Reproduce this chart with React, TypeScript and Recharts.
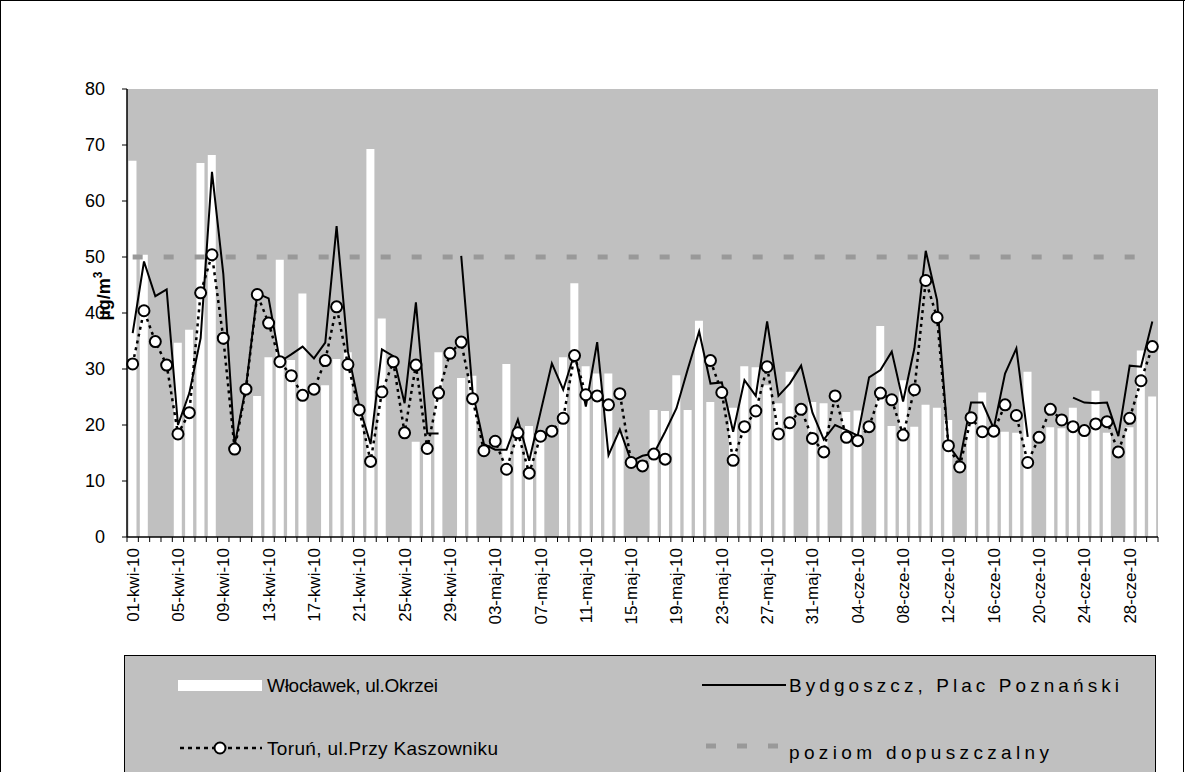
import React from 'react';
import { ComposedChart, Bar, Line, XAxis, YAxis, CartesianGrid } from 'recharts';

const dates = [
  '01-kwi-10','02-kwi-10','03-kwi-10','04-kwi-10','05-kwi-10','06-kwi-10','07-kwi-10','08-kwi-10','09-kwi-10','10-kwi-10',
  '11-kwi-10','12-kwi-10','13-kwi-10','14-kwi-10','15-kwi-10','16-kwi-10','17-kwi-10','18-kwi-10','19-kwi-10','20-kwi-10',
  '21-kwi-10','22-kwi-10','23-kwi-10','24-kwi-10','25-kwi-10','26-kwi-10','27-kwi-10','28-kwi-10','29-kwi-10','30-kwi-10',
  '01-maj-10','02-maj-10','03-maj-10','04-maj-10','05-maj-10','06-maj-10','07-maj-10','08-maj-10','09-maj-10','10-maj-10',
  '11-maj-10','12-maj-10','13-maj-10','14-maj-10','15-maj-10','16-maj-10','17-maj-10','18-maj-10','19-maj-10','20-maj-10',
  '21-maj-10','22-maj-10','23-maj-10','24-maj-10','25-maj-10','26-maj-10','27-maj-10','28-maj-10','29-maj-10','30-maj-10',
  '31-maj-10','01-cze-10','02-cze-10','03-cze-10','04-cze-10','05-cze-10','06-cze-10','07-cze-10','08-cze-10','09-cze-10',
  '10-cze-10','11-cze-10','12-cze-10','13-cze-10','14-cze-10','15-cze-10','16-cze-10','17-cze-10','18-cze-10','19-cze-10',
  '20-cze-10','21-cze-10','22-cze-10','23-cze-10','24-cze-10','25-cze-10','26-cze-10','27-cze-10','28-cze-10','29-cze-10',
  '30-cze-10',
];

const tickLabels = [
  '01-kwi-10','05-kwi-10','09-kwi-10','13-kwi-10','17-kwi-10','21-kwi-10','25-kwi-10','29-kwi-10',
  '03-maj-10','07-maj-10','11-maj-10','15-maj-10','19-maj-10','23-maj-10','27-maj-10','31-maj-10',
  '04-cze-10','08-cze-10','12-cze-10','16-cze-10','20-cze-10','24-cze-10','28-cze-10',
];

const yTicks = [0, 10, 20, 30, 40, 50, 60, 70, 80];

// Włocławek, ul.Okrzei (bars)
const wloclawek: (number | null)[] = [
  67.2, 50.4, null, null, 34.7, 37.0, 66.8, 68.2, null, null,
  null, 25.2, 32.1, 49.5, 31.6, 43.5, null, 27.1, 31.8, 33.0,
  22.5, 69.3, 39.0, null, null, 17.0, 16.0, 33.0, null, 28.4,
  28.8, null, null, 30.9, 17.5, 19.8, 17.2, null, 32.1, 45.3,
  30.5, 29.2, 29.2, 18.5, null, null, 22.7, 22.5, 28.9, 22.7,
  38.6, 24.1, null, 23.1, 30.5, 30.3, 27.1, 23.9, 29.5, null,
  24.1, 23.9, null, 22.3, 22.6, null, 37.7, 19.8, 28.0, 19.7,
  23.6, 23.1, 20.9, null, 22.0, 25.8, 18.5, 18.8, 18.6, 29.5,
  null, 19.6, 19.4, 23.1, 18.5, 26.1, 18.6, null, 19.6, 33.3,
  25.1,
];

// Bydgoszcz, Plac Poznański (solid line)
const bydgoszcz: (number | null)[] = [
  36.4, 49.2, 43.0, 44.2, 20.0, 25.7, 35.5, 65.2, 47.0, 16.4,
  26.8, 43.5, 42.6, 31.3, 32.6, 34.0, 31.9, 34.7, 55.5, 33.1,
  23.3, 16.6, 33.5, 32.3, 23.9, 41.9, 18.5, 18.5, null, 50.2,
  26.0, 16.6, 15.6, 15.6, 21.0, 13.6, 22.3, 31.0, 26.3, 32.8,
  23.3, 34.8, 14.6, 19.2, 13.5, 14.5, 14.9, 18.8, 23.0, 30.0,
  36.7, 27.4, 27.6, 18.8, 28.0, 25.2, 38.5, 25.2, 27.4, 30.6,
  22.2, 17.4, 20.0, 19.1, 18.1, 28.5, 29.8, 33.1, 24.2, 33.7,
  51.1, 42.3, 16.4, 13.6, 24.0, 24.0, 19.4, 29.2, 33.7, 17.9,
  null, null, null, 24.9, 24.0, 23.9, 24.0, 18.0, 30.6, 30.4,
  38.5,
];

// Toruń, ul.Przy Kaszowniku (dotted line with markers)
const torun: (number | null)[] = [
  30.9, 40.4, 34.9, 30.7, 18.4, 22.2, 43.6, 50.4, 35.5, 15.7,
  26.4, 43.3, 38.2, 31.3, 28.8, 25.3, 26.4, 31.5, 41.1, 30.8,
  22.7, 13.5, 25.9, 31.3, 18.6, 30.7, 15.8, 25.7, 32.8, 34.8,
  24.7, 15.4, 17.1, 12.1, 18.6, 11.4, 18.0, 18.9, 21.2, 32.4,
  25.4, 25.2, 23.6, 25.6, 13.3, 12.7, 14.8, 13.9, null, null,
  null, 31.5, 25.8, 13.7, 19.7, 22.5, 30.4, 18.4, 20.4, 22.8,
  17.6, 15.2, 25.2, 17.8, 17.2, 19.7, 25.7, 24.5, 18.2, 26.3,
  45.8, 39.2, 16.3, 12.5, 21.3, 18.8, 18.9, 23.6, 21.7, 13.3,
  17.8, 22.8, 20.9, 19.7, 19.0, 20.2, 20.6, 15.2, 21.2, 27.9,
  34.0,
];

// poziom dopuszczalny
const limitValue = 50;

const data = dates.map((d, i) => ({
  date: d,
  wloclawek: wloclawek[i],
  bydgoszcz: bydgoszcz[i],
  torun: torun[i],
  limit: limitValue,
}));

const FONT = '"Liberation Sans", Arial, sans-serif';
const CHART_W = 1185;
const CHART_H = 772;
const MARGIN = { top: 89, right: 27, left: 0, bottom: 135 };
const Y_AXIS_W = 127;
const X_AXIS_H = 100;
const PLOT_W = CHART_W - MARGIN.left - MARGIN.right - Y_AXIS_W;
const PLOT_H = CHART_H - MARGIN.top - MARGIN.bottom - X_AXIS_H;
const HALF_BAND = PLOT_W / dates.length / 2;

const XTick = (props: any) => {
  const { x, y, payload } = props;
  const idx = dates.indexOf(payload.value);
  const show = tickLabels.includes(payload.value);
  return (
    <g>
      <line x1={x - HALF_BAND} x2={x - HALF_BAND} y1={y} y2={y + 5} stroke="#000" strokeWidth={1} />
      {idx === dates.length - 1 && (
        <line x1={x + HALF_BAND} x2={x + HALF_BAND} y1={y} y2={y + 5} stroke="#000" strokeWidth={1} />
      )}
      {show && (
        <text
          transform={`translate(${x + 6},${y + 11}) rotate(-90)`}
          textAnchor="end"
          fontSize={17}
          fontFamily={FONT}
          fill="#000"
        >
          {payload.value}
        </text>
      )}
    </g>
  );
};

const YLabel = () => {
  const cx = MARGIN.left + 110;
  const cy = MARGIN.top + PLOT_H / 2 - 17;
  return (
    <text
      transform={`translate(${cx},${cy}) rotate(-90)`}
      textAnchor="middle"
      fontSize={18}
      fontWeight="bold"
      fontFamily={FONT}
      fill="#000"
    >
      µg/m<tspan fontSize={12} dy={-8}>3</tspan>
    </text>
  );
};

const Legend = () => (
  <svg
    width={CHART_W}
    height={CHART_H}
    style={{ position: 'absolute', left: 0, top: 0, pointerEvents: 'none' }}
  >
    <line x1={0.5} y1={0} x2={0.5} y2={CHART_H} stroke="#000" strokeWidth={1} />
    <line x1={0} y1={0.5} x2={CHART_W} y2={0.5} stroke="#000" strokeWidth={1} />
    <line x1={1183.5} y1={0} x2={1183.5} y2={CHART_H} stroke="#000" strokeWidth={1} />
    <rect x={124.5} y={655.5} width={1031} height={140} fill="#c0c0c0" stroke="#000" strokeWidth={1} />
    <rect x={178} y={680} width={84} height={11} fill="#fff" />
    <text x={267} y={692} fontSize={19} fontFamily={FONT} fill="#000" textLength={171} lengthAdjust="spacing">Włocławek, ul.Okrzei</text>
    <line x1={702} y1={685} x2={786} y2={685} stroke="#000" strokeWidth={2} />
    <text x={789} y={692} fontSize={19} fontFamily={FONT} fill="#000" textLength={330} lengthAdjust="spacing">Bydgoszcz, Plac Poznański</text>
    <line x1={180} y1={748} x2={262} y2={748} stroke="#000" strokeWidth={2.5} strokeDasharray="4 4" />
    <circle cx={220} cy={748} r={5.5} fill="#fff" stroke="#000" strokeWidth={2} />
    <text x={267} y={755} fontSize={19} fontFamily={FONT} fill="#000" textLength={231} lengthAdjust="spacing">Toruń, ul.Przy Kaszowniku</text>
    <line x1={706} y1={746} x2={786} y2={746} stroke="#999999" strokeWidth={5} strokeDasharray="10 21" />
    <text x={789} y={759} fontSize={19} fontFamily={FONT} fill="#000" textLength={260} lengthAdjust="spacing">poziom dopuszczalny</text>
  </svg>
);

export default function App() {
  return (
    <div
      style={{
        position: 'absolute',
        left: 0,
        top: 0,
        width: CHART_W,
        height: CHART_H,
        overflow: 'hidden',
        background: '#fff',
        fontFamily: FONT,
      }}
    >
      <ComposedChart
        width={CHART_W}
        height={CHART_H}
        data={data}
        margin={MARGIN}
        barCategoryGap="13%"
      >
        <CartesianGrid fill="#c0c0c0" horizontal={false} vertical={false} />
        <XAxis
          dataKey="date"
          height={X_AXIS_H}
          interval={0}
          tick={<XTick />}
          tickLine={false}
          tickSize={0}
          tickMargin={0}
          axisLine={{ stroke: '#000', strokeWidth: 1.5 }}
        />
        <XAxis
          xAxisId="top"
          dataKey="date"
          orientation="top"
          height={0}
          tick={false}
          tickLine={false}
          axisLine={{ stroke: '#808080', strokeWidth: 2 }}
        />
        <YAxis
          domain={[0, 80]}
          ticks={yTicks}
          interval={0}
          width={Y_AXIS_W}
          tickSize={5}
          tickMargin={17}
          tickLine={{ stroke: '#000' }}
          axisLine={{ stroke: '#000', strokeWidth: 1.5 }}
          tick={{ fill: '#000', fontSize: 18, fontFamily: FONT }}
        />
        <YAxis
          yAxisId="right"
          orientation="right"
          domain={[0, 80]}
          width={0}
          tick={false}
          tickLine={false}
          axisLine={{ stroke: '#808080', strokeWidth: 2 }}
        />
        <Bar dataKey="wloclawek" fill="#ffffff" isAnimationActive={false} />
        <Line
          dataKey="limit"
          type="linear"
          stroke="#999999"
          strokeWidth={5}
          strokeDasharray="10 21"
          dot={false}
          activeDot={false}
          isAnimationActive={false}
        />
        <Line
          dataKey="bydgoszcz"
          type="linear"
          stroke="#000"
          strokeWidth={2}
          dot={false}
          activeDot={false}
          connectNulls={false}
          isAnimationActive={false}
        />
        <Line
          dataKey="torun"
          type="linear"
          stroke="#000"
          strokeWidth={2.5}
          strokeDasharray="3 4"
          dot={{ r: 5.5, fill: '#fff', stroke: '#000', strokeWidth: 2, strokeDasharray: 'none' }}
          activeDot={false}
          connectNulls={false}
          isAnimationActive={false}
        />
      </ComposedChart>
      <Legend />
      <svg
        width={CHART_W}
        height={CHART_H}
        style={{ position: 'absolute', left: 0, top: 0, pointerEvents: 'none' }}
      >
        <YLabel />
      </svg>
    </div>
  );
}
